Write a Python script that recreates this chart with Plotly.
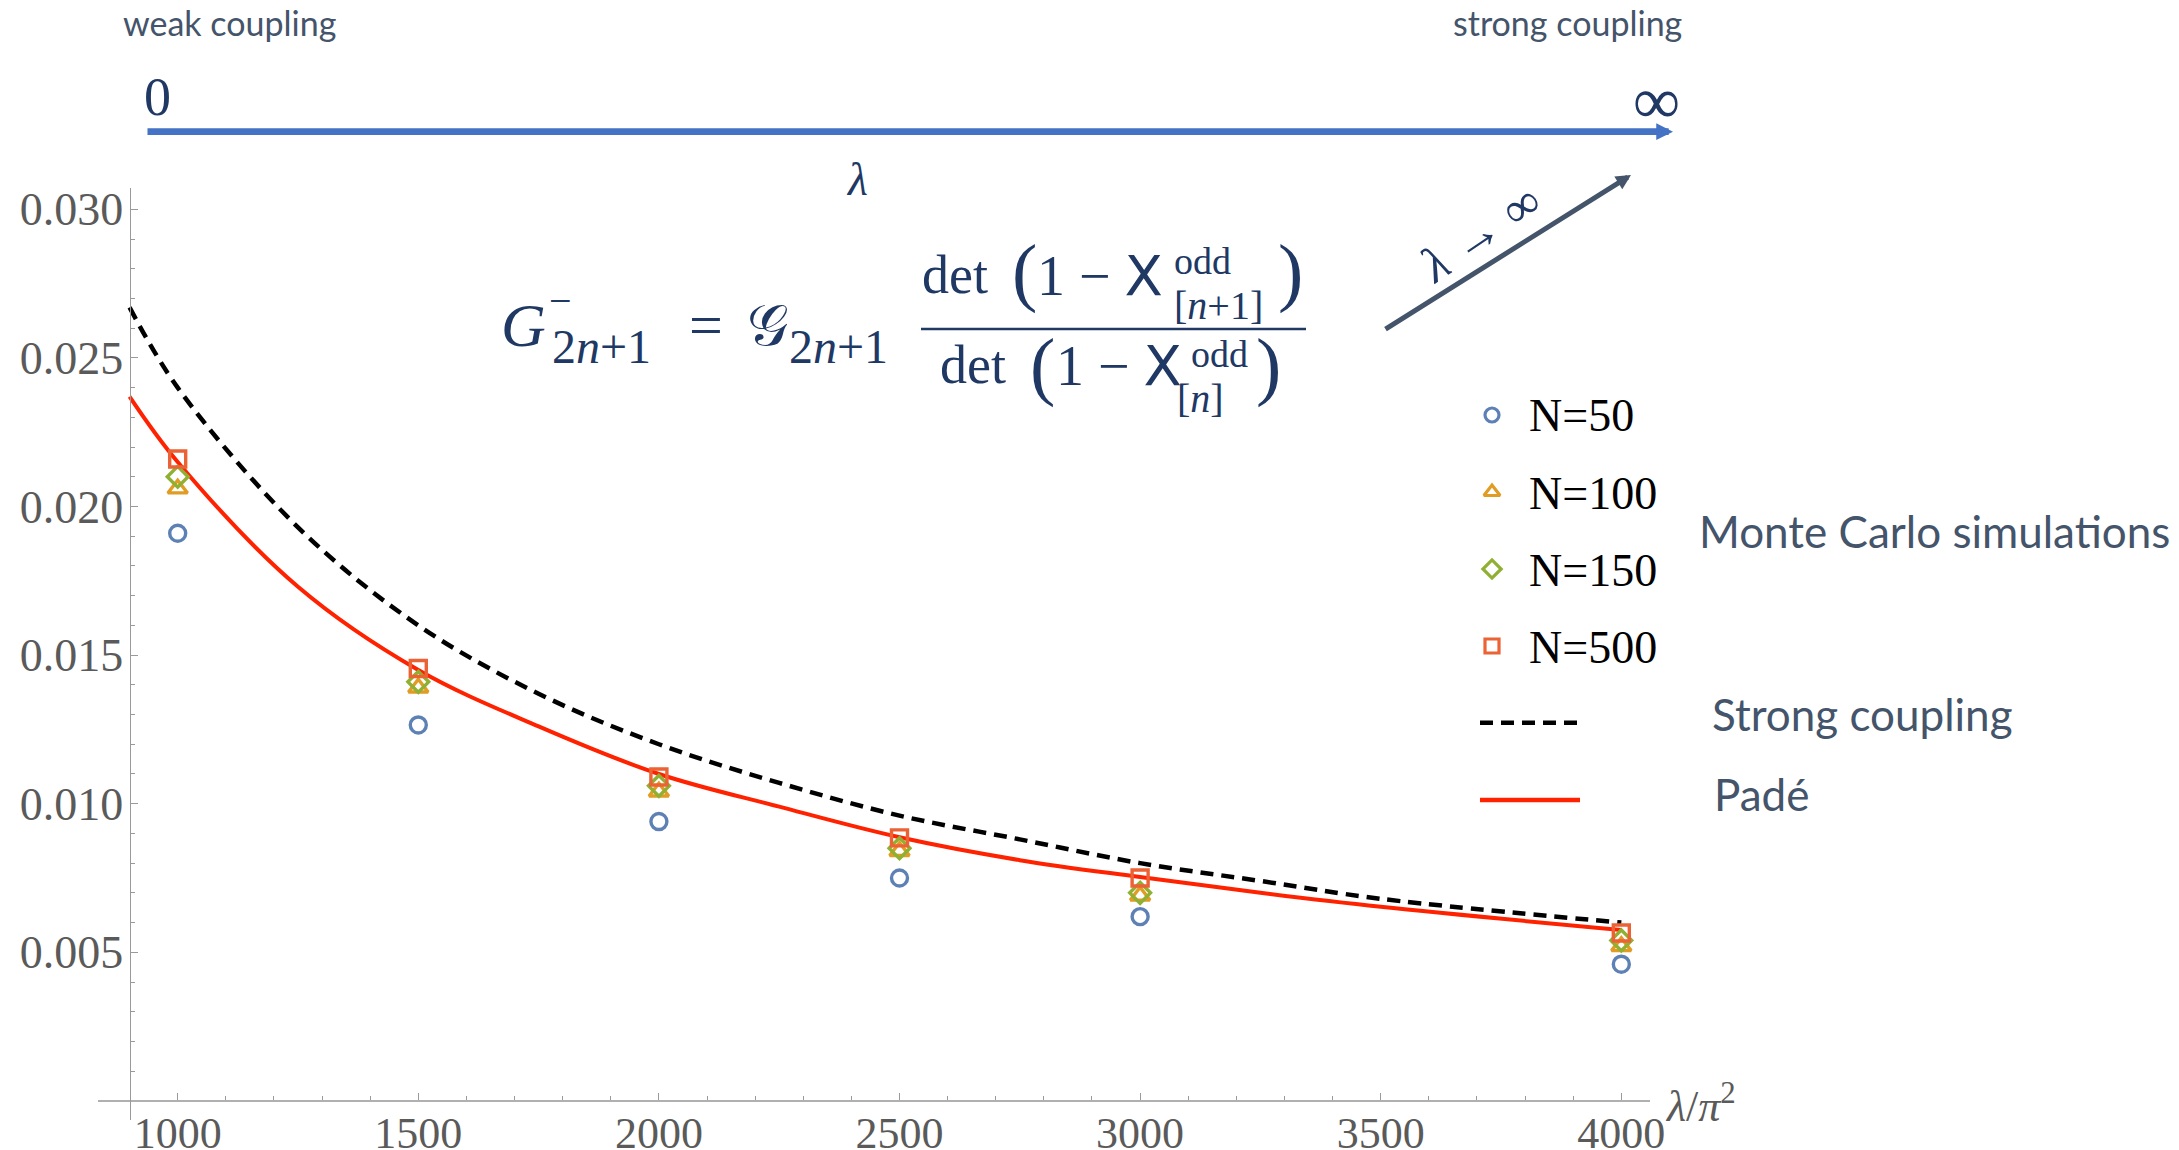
import plotly.graph_objects as go

# ---------------- data ----------------
lam_mc = [1000, 1500, 2000, 2500, 3000, 4000]
g_n50 = [0.0191, 0.01265, 0.0094, 0.0075, 0.0062, 0.0046]
g_n100 = [0.0206, 0.0139, 0.0104, 0.0084, 0.0069, 0.0052]
g_n150 = [0.0210, 0.0141, 0.0106, 0.0085, 0.0070, 0.0054]
g_n500 = [0.0216, 0.01455, 0.0109, 0.00885, 0.0075, 0.00565]

lam_curve = [900, 1000, 1250, 1500, 1750, 2000, 2250, 2500, 2750, 3000, 3250, 3500, 4000]
g_strong = [0.0267, 0.0240, 0.0193, 0.0160, 0.0137, 0.0120, 0.0107, 0.0096, 0.0088, 0.0080, 0.0074, 0.0068, 0.0060]
g_pade = [0.0237, 0.0215, 0.0173, 0.0145, 0.0126, 0.0110, 0.0099, 0.00887, 0.0081, 0.00753, 0.0070, 0.00653, 0.00575]

x_ticks = [1000, 1500, 2000, 2500, 3000, 3500, 4000]
x_tick_labels = ["1000", "1500", "2000", "2500", "3000", "3500", "4000"]
y_ticks = [0.005, 0.010, 0.015, 0.020, 0.025, 0.030]
y_tick_labels = ["0.005", "0.010", "0.015", "0.020", "0.025", "0.030"]
x_minor = [v for v in range(1100, 4000, 100) if v % 500 != 0]
y_minor = [round(k * 0.001, 3) for k in range(1, 30) if k % 5 != 0]

series_names = ["N=50", "N=100", "N=150", "N=500"]
series_colors = ["#5E81B5", "#E19C24", "#8FB032", "#EB6235"]
series_symbols = ["circle-open", "triangle-up-open", "diamond-open", "square-open"]

# ---------------- geometry ----------------
# the page body has an 8px margin, so the figure is drawn 8px in from the window corner
OFF = 8
W, H = 2179 - OFF, 1150 - OFF
PL, PT, PW, PH = 98, 188, 1552, 932          # plot area in window pixels
L, T = PL - OFF, PT - OFF
R, B = W - L - PW, H - T - PH
X_RANGE = [834.4, 4059.6]
Y_RANGE = [-0.000643, 0.030717]
Y_AXIS_AT = 900.0
X_AXIS_AT = 0.0

SERIF = "Liberation Serif, Times New Roman, serif"
SANS = "Lato, Open Sans, sans-serif"
NAVY = "#203864"
SLATE = "#44546A"
AXIS_GRAY = "#9a9a9a"
LABEL_GRAY = "#5a5a5a"


def pxx(x):
    return (x - PL) / PW


def pxy(y):
    return (PT + PH - y) / PH


fig = go.Figure()

# curves
fig.add_trace(go.Scatter(x=lam_curve, y=g_strong, mode="lines", line_shape="spline",
                         line=dict(color="black", width=4.5, dash="13px,8px"),
                         showlegend=False, hoverinfo="skip"))
fig.add_trace(go.Scatter(x=lam_curve, y=g_pade, mode="lines", line_shape="spline",
                         line=dict(color="#FF2200", width=4),
                         showlegend=False, hoverinfo="skip"))

# Monte Carlo points
for name, vals, col, sym in zip(series_names, [g_n50, g_n100, g_n150, g_n500],
                                series_colors, series_symbols):
    size = 16 if sym != "triangle-up-open" else 17
    fig.add_trace(go.Scatter(x=lam_mc, y=vals, mode="markers", name=name,
                             marker=dict(symbol=sym, size=size, color=col,
                                         line=dict(color=col, width=3.4)),
                             showlegend=False))

# ---------------- manual legend (pixel overlay axes) ----------------
leg_y = [415, 492, 569, 646]
for yy, col, sym in zip(leg_y, series_colors, series_symbols):
    fig.add_trace(go.Scatter(x=[1492], y=[yy], xaxis="x2", yaxis="y2", mode="markers",
                             marker=dict(symbol=sym, size=14, color=col,
                                         line=dict(color=col, width=3.2)),
                             showlegend=False, hoverinfo="skip"))
fig.add_trace(go.Scatter(x=[1480, 1578], y=[722.7, 722.7], xaxis="x2", yaxis="y2", mode="lines",
                         line=dict(color="black", width=4.5, dash="13px,8px"),
                         showlegend=False, hoverinfo="skip"))
fig.add_trace(go.Scatter(x=[1480, 1580], y=[800, 800], xaxis="x2", yaxis="y2", mode="lines",
                         line=dict(color="#FF2200", width=4.5),
                         showlegend=False, hoverinfo="skip"))

annotations = []


def ann(text, x, y, size, color, family=SERIF, xanchor="left", yanchor="middle", angle=0):
    annotations.append(dict(text=text, x=pxx(x), y=pxy(y), xref="paper", yref="paper",
                            showarrow=False, xanchor=xanchor, yanchor=yanchor,
                            textangle=angle, borderpad=0,
                            font=dict(size=size, color=color, family=family)))


# legend texts
for yy, name in zip([415, 493, 570, 647], series_names):
    ann(name, 1528, yy, 46, "black")
ann("Monte Carlo simulations", 1698, 531, 44, SLATE, SANS)
ann("Strong coupling", 1711, 714, 44, SLATE, SANS)
ann("Padé", 1713, 794, 44, SLATE, SANS)

# axis label
ann("<i>λ</i>/<i>π</i><sup>2</sup>", 1664, 1103, 44, LABEL_GRAY)

# top coupling bar
ann("weak coupling", 122, 22, 34, SLATE, SANS)
ann("strong coupling", 1683, 22, 34, SLATE, SANS, xanchor="right")
ann("0", 157, 97, 54, NAVY, xanchor="center")
ann("∞", 1656, 100, 66, NAVY, xanchor="center")
ann("<i>λ</i>", 857, 179.5, 46, NAVY, xanchor="center")
ann("<i>λ</i> → ∞", 1480, 233, 50, NAVY, xanchor="center", angle=-34)

annotations.append(dict(text="", x=pxx(1673), y=pxy(131.7), xref="paper", yref="paper",
                        ax=146 - 1673, ay=0, axref="pixel", ayref="pixel",
                        showarrow=True, arrowhead=2, arrowsize=0.5, arrowwidth=6.7,
                        arrowcolor="#4472C4", standoff=0))
annotations.append(dict(text="", x=pxx(1631), y=pxy(175), xref="paper", yref="paper",
                        ax=1384 - 1631, ay=330 - 175, axref="pixel", ayref="pixel",
                        showarrow=True, arrowhead=2, arrowsize=0.6, arrowwidth=5,
                        arrowcolor=SLATE, standoff=0))

# formula
ann("<i>G</i>", 500, 325, 62, NAVY)
ann("−", 560, 300, 40, NAVY, xanchor="center")
ann("2<i>n</i>+1", 551, 346, 48, NAVY)
ann("=", 706, 325, 60, NAVY, xanchor="center")
ann("𝒢", 746, 325, 58, NAVY)
ann("2<i>n</i>+1", 788, 346, 48, NAVY)
# numerator
ann("det", 921, 275, 54, NAVY)
ann("(", 1024, 271, 76, NAVY, xanchor="center")
ann("1 − <span style='font-family:DejaVu Sans'>X</span>", 1036, 275, 56, NAVY)
ann("odd", 1173, 261, 38, NAVY)
ann("[<i>n</i>+1]", 1173, 305, 40, NAVY)
ann(")", 1290, 271, 76, NAVY, xanchor="center")
# denominator
ann("det", 939, 365, 54, NAVY)
ann("(", 1042, 365, 76, NAVY, xanchor="center")
ann("1 − <span style='font-family:DejaVu Sans'>X</span>", 1055, 365, 56, NAVY)
ann("odd", 1190, 354, 38, NAVY)
ann("[<i>n</i>]", 1176, 398, 40, NAVY)
ann(")", 1268, 365, 76, NAVY, xanchor="center")

shapes = [dict(type="line", xref="paper", yref="paper",
               x0=pxx(921), x1=pxx(1306), y0=pxy(329), y1=pxy(329),
               line=dict(color=NAVY, width=2.5))]

y_axis_pos = (Y_AXIS_AT - X_RANGE[0]) / (X_RANGE[1] - X_RANGE[0])
x_axis_pos = (X_AXIS_AT - Y_RANGE[0]) / (Y_RANGE[1] - Y_RANGE[0])

fig.update_layout(
    width=W, height=H,
    margin=dict(l=L, r=R, t=T, b=B, pad=0, autoexpand=False),
    paper_bgcolor="white", plot_bgcolor="white",
    showlegend=False,
    xaxis=dict(range=X_RANGE, anchor="free", position=x_axis_pos, automargin=False,
               showgrid=False, zeroline=False, showline=True, linecolor="#b0b0b0", linewidth=2,
               tickmode="array", tickvals=x_ticks, ticktext=x_tick_labels,
               ticks="inside", ticklen=7, tickwidth=1, tickcolor=AXIS_GRAY,
               minor=dict(tickvals=x_minor, ticks="inside", ticklen=4, tickwidth=1, tickcolor=AXIS_GRAY),
               ticklabelstandoff=-7,
               tickfont=dict(family=SERIF, size=44, color=LABEL_GRAY)),
    yaxis=dict(range=Y_RANGE, anchor="free", position=y_axis_pos, automargin=False,
               showgrid=False, zeroline=False, showline=True, linecolor=AXIS_GRAY, linewidth=1.2,
               tickmode="array", tickvals=y_ticks, ticktext=y_tick_labels,
               ticks="inside", ticklen=7, tickwidth=1, tickcolor=AXIS_GRAY,
               minor=dict(tickvals=y_minor, ticks="inside", ticklen=4, tickwidth=1, tickcolor=AXIS_GRAY),
               ticklabelstandoff=-3,
               tickfont=dict(family=SERIF, size=46, color=LABEL_GRAY)),
    xaxis2=dict(range=[PL, PL + PW], overlaying="x", visible=False, anchor="y2", automargin=False),
    yaxis2=dict(range=[PT + PH, PT], overlaying="y", visible=False, anchor="x2", automargin=False),
    annotations=annotations,
    shapes=shapes,
)

fig.write_html("out.html")
